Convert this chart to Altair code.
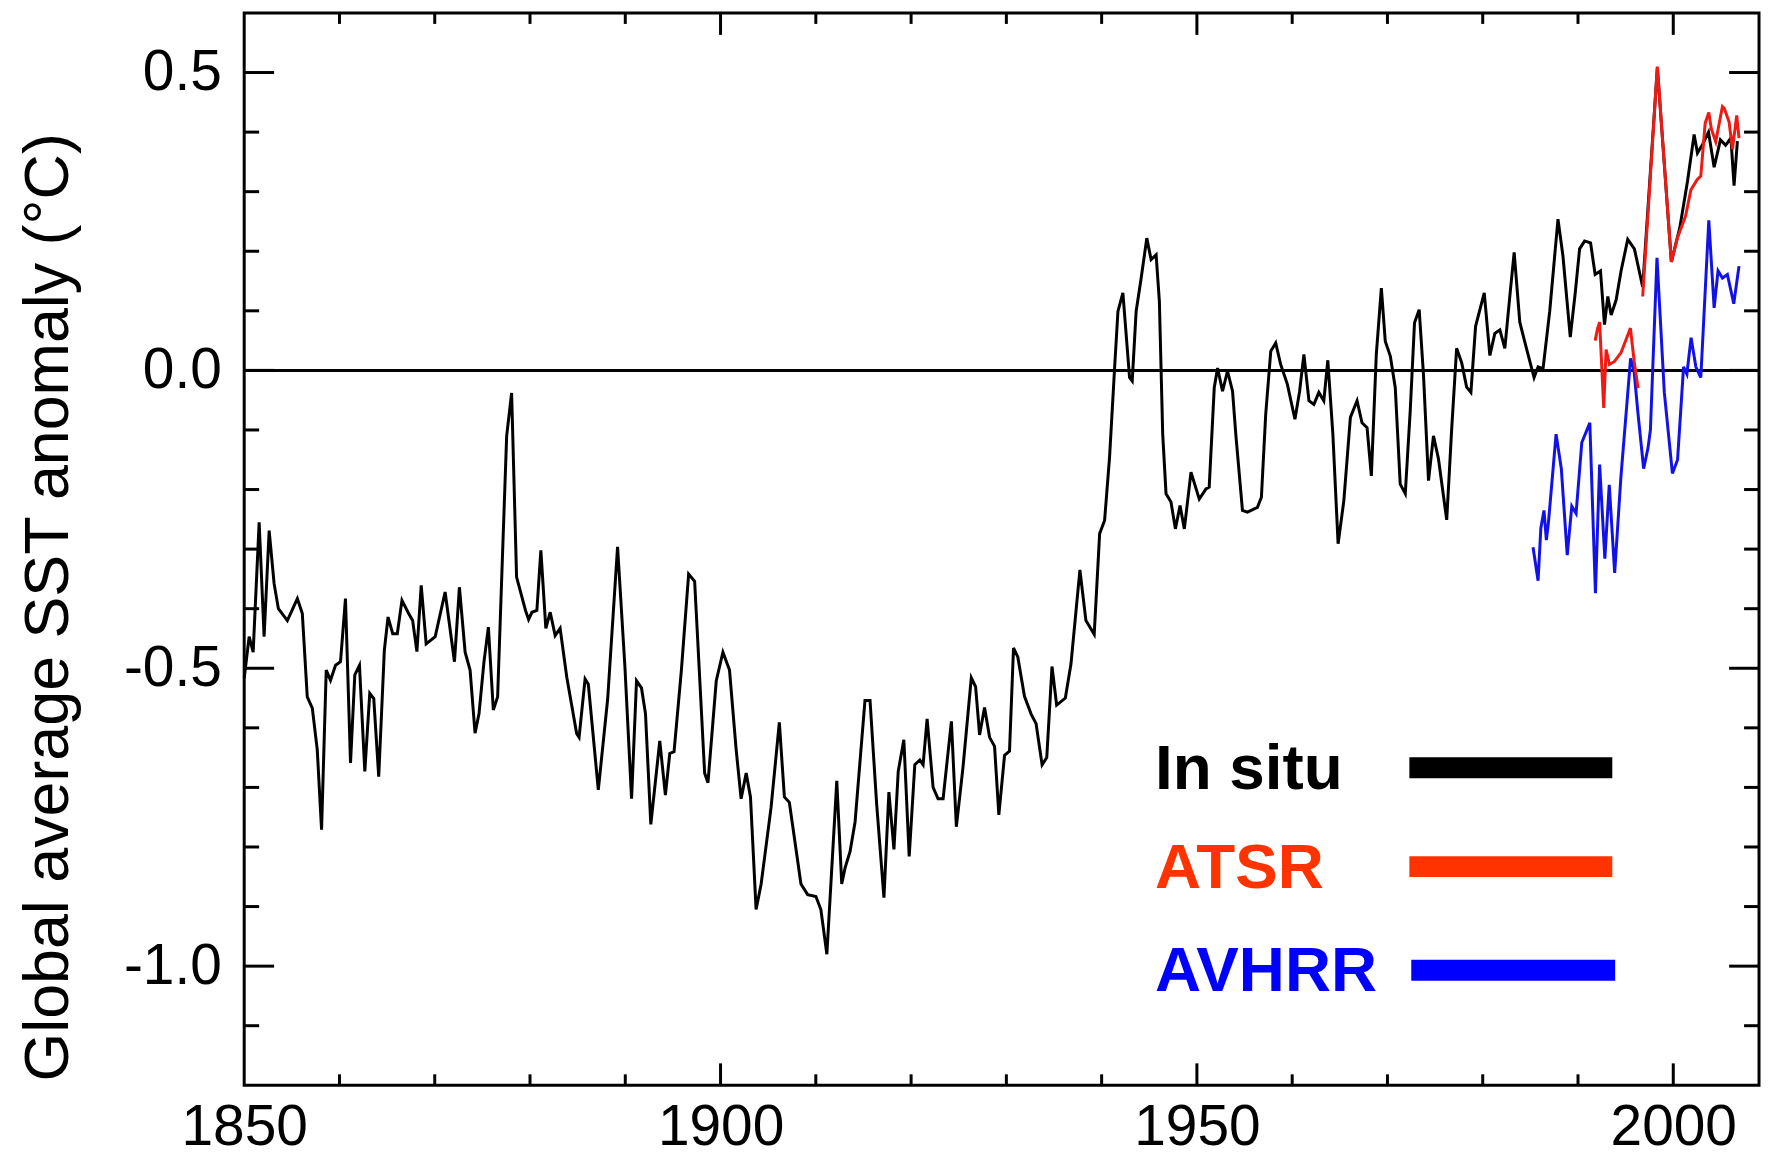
import altair as alt
import pandas as pd

# ---------------- data ----------------
insitu_years = [
    1850.00, 1850.52, 1850.94, 1851.57, 1852.09, 1852.62, 1853.14, 1853.59, 1854.53, 1855.58,
    1856.10, 1856.62, 1857.15, 1857.67, 1858.12, 1858.61, 1859.06, 1859.59, 1860.11, 1860.63,
    1861.16, 1861.61, 1862.10, 1862.66, 1863.18, 1863.60, 1864.12, 1864.71, 1865.10, 1865.59,
    1866.07, 1866.56, 1867.26, 1867.68, 1868.13, 1868.58, 1869.10, 1870.05, 1871.09, 1872.07,
    1872.59, 1873.19, 1873.71, 1874.23, 1874.65, 1875.17, 1875.63, 1876.15, 1876.60, 1877.13,
    1877.55, 1878.07, 1878.59, 1879.53, 1879.85, 1880.20, 1880.72, 1881.14, 1881.66, 1882.12,
    1882.64, 1883.16, 1883.86, 1884.90, 1885.15, 1885.78, 1886.12, 1887.17, 1888.15, 1889.19,
    1889.96, 1890.66, 1891.18, 1891.70, 1892.12, 1892.68, 1893.62, 1894.21, 1894.67, 1895.12,
    1895.89, 1896.65, 1897.28, 1898.33, 1898.68, 1899.55, 1900.25, 1900.94, 1901.64, 1902.16,
    1902.69, 1903.14, 1903.73, 1904.26, 1905.30, 1906.17, 1906.70, 1907.22, 1908.44, 1909.14,
    1910.01, 1910.53, 1911.16, 1912.20, 1912.72, 1913.07, 1913.59, 1914.12, 1915.16, 1915.69,
    1916.38, 1917.15, 1917.67, 1918.20, 1918.65, 1919.24, 1919.80, 1920.39, 1920.92, 1921.26,
    1921.68, 1922.31, 1922.83, 1923.36, 1924.23, 1924.75, 1925.45, 1926.32, 1926.77, 1927.19,
    1927.71, 1928.24, 1928.76, 1929.21, 1929.81, 1930.33, 1930.75, 1931.20, 1931.90, 1932.60,
    1933.12, 1933.75, 1934.24, 1934.79, 1935.28, 1936.19, 1936.78, 1937.72, 1938.35, 1939.22,
    1939.79, 1940.31, 1940.83, 1941.36, 1941.71, 1942.23, 1942.93, 1943.21, 1943.62, 1944.15,
    1944.74, 1945.19, 1945.72, 1946.06, 1946.41, 1946.76, 1947.28, 1947.74, 1948.23, 1948.68,
    1949.38, 1950.25, 1950.95, 1951.29, 1951.82, 1952.17, 1952.69, 1953.21, 1953.74, 1954.08,
    1954.78, 1955.30, 1956.35, 1956.77, 1957.22, 1957.75, 1958.27, 1958.79, 1959.49, 1960.29,
    1960.78, 1961.23, 1961.76, 1962.28, 1962.80, 1963.32, 1963.74, 1964.27, 1964.82, 1965.42,
    1966.11, 1966.81, 1967.33, 1967.86, 1968.31, 1968.83, 1969.36, 1969.77, 1970.30, 1970.82,
    1971.34, 1971.87, 1972.39, 1972.84, 1973.33, 1973.78, 1974.31, 1974.83, 1975.35, 1976.22,
    1976.74, 1977.26, 1977.79, 1978.31, 1978.76, 1979.25, 1980.16, 1980.75, 1981.27, 1981.80,
    1982.32, 1982.84, 1983.30, 1983.89, 1984.59, 1985.39, 1985.81, 1986.33, 1987.03, 1987.90,
    1988.42, 1989.19, 1989.71, 1990.17, 1990.69, 1991.32, 1991.80, 1992.36, 1992.78, 1993.13,
    1993.48, 1994.00, 1994.52, 1995.22, 1995.92, 1996.79, 1998.33, 1999.80, 2000.69, 2001.49,
    2002.19, 2002.54, 2003.10, 2003.70, 2004.29, 2004.95, 2005.50, 2006.05, 2006.38, 2006.73,
]
insitu_values = [
    -0.517, -0.447, -0.473, -0.255, -0.447, -0.269, -0.358, -0.400, -0.420, -0.383,
    -0.408, -0.548, -0.567, -0.637, -0.771, -0.503, -0.520, -0.495, -0.489, -0.383,
    -0.659, -0.511, -0.495, -0.673, -0.542, -0.551, -0.682, -0.470, -0.414, -0.442,
    -0.442, -0.386, -0.408, -0.420, -0.472, -0.361, -0.459, -0.447, -0.372, -0.489,
    -0.364, -0.473, -0.503, -0.609, -0.576, -0.489, -0.431, -0.570, -0.548, -0.302,
    -0.110, -0.038, -0.347, -0.403, -0.418, -0.406, -0.403, -0.302, -0.433, -0.406,
    -0.445, -0.433, -0.515, -0.610, -0.616, -0.518, -0.527, -0.704, -0.552, -0.296,
    -0.497, -0.719, -0.521, -0.533, -0.576, -0.762, -0.622, -0.713, -0.643, -0.640,
    -0.503, -0.342, -0.354, -0.676, -0.692, -0.521, -0.473, -0.503, -0.637, -0.719,
    -0.676, -0.716, -0.905, -0.862, -0.734, -0.591, -0.716, -0.725, -0.862, -0.880,
    -0.883, -0.905, -0.980, -0.689, -0.862, -0.835, -0.808, -0.758, -0.554, -0.554,
    -0.727, -0.885, -0.708, -0.804, -0.673, -0.620, -0.816, -0.662, -0.654, -0.662,
    -0.585, -0.700, -0.719, -0.719, -0.589, -0.766, -0.666, -0.516, -0.531, -0.612,
    -0.566, -0.616, -0.631, -0.746, -0.646, -0.639, -0.466, -0.481, -0.547, -0.577,
    -0.593, -0.662, -0.650, -0.497, -0.562, -0.550, -0.493, -0.335, -0.420, -0.443,
    -0.274, -0.252, -0.146, 0.004, 0.099, 0.130, -0.012, -0.018, 0.099, 0.155,
    0.222, 0.186, 0.194, 0.116, -0.107, -0.207, -0.221, -0.266, -0.227, -0.266,
    -0.171, -0.216, -0.199, -0.196, -0.029, 0.004, -0.035, -0.001, -0.035, -0.107,
    -0.235, -0.238, -0.230, -0.213, -0.074, 0.032, 0.046, 0.010, -0.023, -0.082,
    -0.035, 0.027, -0.051, -0.057, -0.037, -0.051, 0.017, -0.107, -0.291, -0.219,
    -0.079, -0.051, -0.088, -0.096, -0.177, 0.027, 0.138, 0.049, 0.024, -0.029,
    -0.191, -0.207, -0.068, 0.080, 0.102, -0.007, -0.185, -0.110, -0.148, -0.251,
    -0.099, 0.037, 0.013, -0.028, -0.037, 0.074, 0.130, 0.025, 0.062, 0.068,
    0.037, 0.124, 0.198, 0.081, 0.037, -0.012, 0.006, 0.003, 0.099, 0.254,
    0.192, 0.056, 0.130, 0.204, 0.217, 0.214, 0.161, 0.167, 0.077, 0.124,
    0.093, 0.118, 0.167, 0.220, 0.204, 0.140, 0.508, 0.182, 0.240, 0.317,
    0.396, 0.365, 0.380, 0.400, 0.341, 0.387, 0.378, 0.390, 0.310, 0.385,
]

atsr_years = [
    1991.80, 1992.05, 1992.27, 1992.70, 1992.95, 1993.30, 1993.83, 1994.52, 1995.15, 1995.50,
    1995.90, 1996.30,
    1996.79, 1998.33, 1999.80, 2000.45, 2001.29, 2001.85, 2002.50, 2002.89, 2003.35, 2003.73,
    2004.00, 2004.46, 2005.16, 2005.35, 2005.86, 2006.21, 2006.66, 2006.90,
]
atsr_values = [
    0.050, 0.070, 0.081, -0.063, 0.035, 0.010, 0.015, 0.030, 0.056, 0.071,
    0.015, -0.030,
    0.124, 0.510, 0.182, 0.223, 0.259, 0.303, 0.320, 0.326, 0.415, 0.433,
    0.405, 0.384, 0.443, 0.440, 0.417, 0.371, 0.428, 0.390,
]
atsr_segment = ["ATSR-1"] * 12 + ["ATSR-2"] * 18

avhrr_years = [
    1985.28, 1985.81, 1986.10, 1986.43, 1986.68, 1986.90, 1987.70, 1988.25, 1988.87, 1989.35,
    1989.80, 1990.40, 1991.24, 1991.83, 1992.27, 1992.82, 1993.28, 1993.85, 1994.50, 1995.52,
    1995.88, 1996.27, 1996.89, 1997.35, 1997.60, 1998.29, 1999.06, 1999.91, 2000.45, 2001.08,
    2001.43, 2001.87, 2002.37, 2002.89, 2003.73, 2004.29, 2004.70, 2005.16, 2005.68, 2006.35,
    2006.90,
]
avhrr_values = [
    -0.297, -0.353, -0.265, -0.235, -0.285, -0.255, -0.107, -0.165, -0.310, -0.228,
    -0.240, -0.121, -0.088, -0.374, -0.158, -0.316, -0.192, -0.340, -0.180, 0.020,
    0.000, -0.068, -0.165, -0.130, -0.100, 0.189, -0.037, -0.173, -0.150, 0.006,
    -0.006, 0.055, 0.006, -0.012, 0.252, 0.105, 0.167, 0.155, 0.161, 0.112,
    0.175,
]

x_tick_labels = [1850, 1900, 1950, 2000]
y_tick_labels = [-1.0, -0.5, 0.0, 0.5]
x_major_ticks = [1900, 1950, 2000]
x_minor_ticks = [1860, 1870, 1880, 1890, 1910, 1920, 1930, 1940, 1960, 1970, 1980, 1990]
y_major_ticks = [-1.0, -0.5, 0.0, 0.5]
y_minor_ticks = [-1.1, -0.9, -0.8, -0.7, -0.6, -0.4, -0.3, -0.2, -0.1, 0.1, 0.2, 0.3, 0.4]

legend_labels = ["In situ", "ATSR", "AVHRR"]
legend_colors = ["#000000", "#ff3300", "#0000ff"]
legend_y = [-0.667, -0.833, -1.007]
legend_text_x = [1945.6, 1945.6, 1945.6]
legend_line_start = [1972.3, 1972.3, 1972.5]
legend_line_end = [1993.6, 1993.6, 1993.9]

# ---------------- layout / style ----------------
W, H = 1520, 1076
FONT = "Liberation Sans"
Y_TITLE = "Global average SST anomaly (°C)"

xscale = alt.Scale(domain=[1850, 2009], nice=False, zero=False)
yscale = alt.Scale(domain=[-1.2, 0.6], nice=False, zero=False)

xaxis = alt.Axis(
    values=x_tick_labels, format="d", labelFlush=False, labelOverlap=False,
    ticks=False, domain=False, grid=False,
    labelFont=FONT, labelFontSize=57, labelColor="black", labelPadding=14,
    title=None,
)
yaxis = alt.Axis(
    values=y_tick_labels,
    labelExpr="(datum.value < 0 ? '-' : '') + format(abs(datum.value), '.1f')",
    labelFlush=False, labelOverlap=False,
    ticks=False, domain=False, grid=False,
    labelFont=FONT, labelFontSize=57, labelColor="black", labelPadding=23,
    title=Y_TITLE, titleFont=FONT, titleFontSize=63, titleFontWeight="normal",
    titleColor="black", titleX=-177, titleY=596, titleAngle=270,
    titleBaseline="alphabetic", titleAlign="center",
)


def X(field):
    return alt.X(f"{field}:Q", scale=xscale, axis=xaxis)


def Y(field):
    return alt.Y(f"{field}:Q", scale=yscale, axis=yaxis)


insitu_df = pd.DataFrame({"year": insitu_years, "value": insitu_values})
atsr_df = pd.DataFrame({"year": atsr_years, "value": atsr_values, "seg": atsr_segment})
avhrr_df = pd.DataFrame({"year": avhrr_years, "value": avhrr_values})

zero_line = alt.Chart(pd.DataFrame({"value": [0.0]})).mark_rule(
    color="black", strokeWidth=3
).encode(y=Y("value"))

insitu_line = alt.Chart(insitu_df).mark_line(color="black", strokeWidth=3).encode(
    x=X("year"), y=Y("value")
)
avhrr_line = alt.Chart(avhrr_df).mark_line(color="#1212e8", strokeWidth=3).encode(
    x=X("year"), y=Y("value")
)
atsr_line = alt.Chart(atsr_df).mark_line(color="#ee1a14", strokeWidth=3).encode(
    x=X("year"), y=Y("value"), detail="seg:N"
)


def y_ticks(vals, length):
    d = pd.DataFrame({"value": vals})
    left = alt.Chart(d).mark_rule(color="black", strokeWidth=3).encode(
        y=Y("value"), x=alt.value(0), x2=alt.value(length)
    )
    right = alt.Chart(d).mark_rule(color="black", strokeWidth=3).encode(
        y=Y("value"), x=alt.value(W - length), x2=alt.value(W)
    )
    return [left, right]


def x_ticks(vals, length):
    d = pd.DataFrame({"year": vals})
    bottom = alt.Chart(d).mark_rule(color="black", strokeWidth=3).encode(
        x=X("year"), y=alt.value(H), y2=alt.value(H - length)
    )
    top = alt.Chart(d).mark_rule(color="black", strokeWidth=3).encode(
        x=X("year"), y=alt.value(0), y2=alt.value(length)
    )
    return [bottom, top]


legend_df = pd.DataFrame({
    "label": legend_labels,
    "color": legend_colors,
    "ty": legend_y,
    "tx": legend_text_x,
    "x0": legend_line_start,
    "x1": legend_line_end,
})
legend_text = alt.Chart(legend_df).mark_text(
    align="left", baseline="middle", font=FONT, fontWeight="bold", fontSize=64, dy=2
).encode(
    x=X("tx"), y=Y("ty"), text="label:N", color=alt.Color("color:N", scale=None)
)
legend_lines = alt.Chart(legend_df).mark_rule(strokeWidth=21).encode(
    x=X("x0"), x2="x1", y=Y("ty"), color=alt.Color("color:N", scale=None)
)

layers = [zero_line, insitu_line, avhrr_line, atsr_line]
layers += y_ticks(y_minor_ticks, 15) + y_ticks(y_major_ticks, 30)
layers += x_ticks(x_minor_ticks, 11) + x_ticks(x_major_ticks, 22)
layers += [legend_lines, legend_text]

chart = alt.layer(*layers).properties(
    width=W,
    height=H,
    autosize=alt.AutoSizeParams(type="none"),
    padding={"left": 237, "top": 3, "right": 4, "bottom": 71},
    background="white",
).configure_view(stroke="black", strokeWidth=3)

chart.save("out.html", embed_options={"renderer": "svg", "actions": False})
